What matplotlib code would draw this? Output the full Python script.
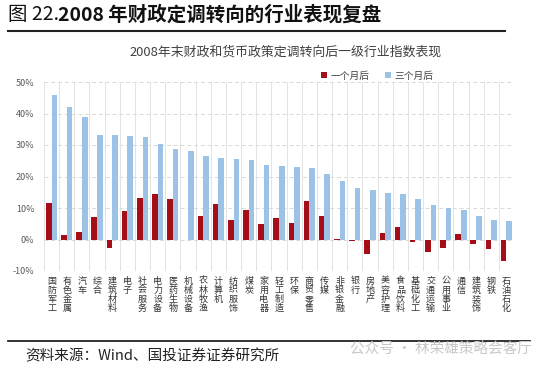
import matplotlib
matplotlib.use("Agg")
import matplotlib.pyplot as plt
import numpy as np

plt.rcParams["font.family"] = ["Noto Sans CJK SC", "DejaVu Sans"]

# industries, sorted by 3-month return
industries = ["国防军工", "有色金属", "汽车", "综合", "建筑材料", "电子", "社会服务",
              "电力设备", "医药生物", "机械设备", "农林牧渔", "计算机", "纺织服饰", "煤炭",
              "家用电器", "轻工制造", "环保", "商贸零售", "传媒", "非银金融", "银行",
              "房地产", "美容护理", "食品饮料", "基础化工", "交通运输", "公用事业", "通信",
              "建筑装饰", "钢铁", "石油石化"]
one_month = [11.7, 1.5, 2.5, 7.3, -2.6, 9.2, 13.1, 14.5, 12.7, -0.3, 7.6, 11.4, 6.2, 9.4,
             5.0, 6.7, 5.2, 12.2, 7.6, 0.2, -0.6, -4.5, 2.2, 3.9, -0.8, -3.9, -2.6, 1.9,
             -1.5, -3.0, -6.9]
three_month = [45.9, 42.0, 38.9, 33.1, 33.1, 32.7, 32.4, 30.4, 28.7, 28.1, 26.6, 25.8, 25.6,
               25.3, 23.6, 23.4, 23.1, 22.7, 20.8, 18.5, 16.2, 15.7, 14.9, 14.3, 12.7, 11.0,
               10.1, 9.4, 7.4, 6.2, 5.8]
yticks = [-10, 0, 10, 20, 30, 40, 50]

RED = "#a50d18"
BLUE = "#9cc2e5"
W, H = 550, 369

fig = plt.figure(figsize=(W / 100, H / 100), dpi=100)
fig.patch.set_facecolor("white")

# header
fig.text(8 / W, 1 - 15 / H, "图 22.", fontsize=14, va="center", ha="left", color="#111111")
fig.text(58 / W, 1 - 15 / H, "2008 年财政定调转向的行业表现复盘", fontsize=14,
         fontweight="bold", va="center", ha="left", color="#111111")
fig.add_artist(plt.Line2D([8 / W, 505 / W], [1 - 31 / H, 1 - 31 / H], color="#222222", lw=1.5))

fig.text(286 / W, 1 - 52 / H, "2008年末财政和货币政策定调转向后一级行业指数表现",
         fontsize=9.3, ha="center", va="center", color="#404040")

ax = fig.add_axes([44 / W, 1 - 271 / H, 470 / W, 189 / H])
x = np.arange(len(industries))
bw = 0.37
ax.bar(x - bw / 2, one_month, width=bw, color=RED, label="一个月后", zorder=3)
ax.bar(x + bw / 2, three_month, width=bw, color=BLUE, label="三个月后", zorder=3)

ax.set_xlim(-0.5, len(industries) - 0.5)
ax.set_ylim(-10, 50)
ax.set_yticks(yticks)
ax.set_yticklabels([f"{v}%" for v in yticks], fontsize=6.5, color="#595959")
ax.set_xticks(x)
ax.set_xticklabels(["\n".join(n) for n in industries], fontsize=6.5, color="#333333",
                   linespacing=1.0, va="top")
ax.set_xticks(np.arange(-0.5, len(industries)), minor=True)
ax.tick_params(axis="both", which="both", length=0)
ax.tick_params(axis="x", pad=4)
ax.tick_params(axis="y", pad=7)
ax.grid(axis="y", which="major", color="#d9d9d9", ls=(0, (4, 3)), lw=0.7, zorder=0)
ax.grid(axis="x", which="minor", color="#e3e3e3", ls="-", lw=0.7, zorder=0)
for s in ax.spines.values():
    s.set_visible(False)

ax.legend(loc="upper left", bbox_to_anchor=(312 / W, 1 - 62 / H), bbox_transform=fig.transFigure,
          ncol=2, frameon=False, fontsize=7, handlelength=0.6, handleheight=0.6,
          handletextpad=0.4, columnspacing=1.6, labelcolor="#404040")

# footer
fig.add_artist(plt.Line2D([8 / W, 530 / W], [1 - 341 / H, 1 - 341 / H], color="#222222", lw=1.3))
fig.text(25 / W, 1 - 356 / H, "资料来源：Wind、国投证券证券研究所", fontsize=10.5,
         style="italic", ha="left", va="center", color="#222222")
fig.text(532 / W, 1 - 349 / H, "公众号 · 林荣雄策略会客厅", fontsize=10.5,
         ha="right", va="center", color="#c8c8c8")

fig.savefig("out.png", dpi=100)
